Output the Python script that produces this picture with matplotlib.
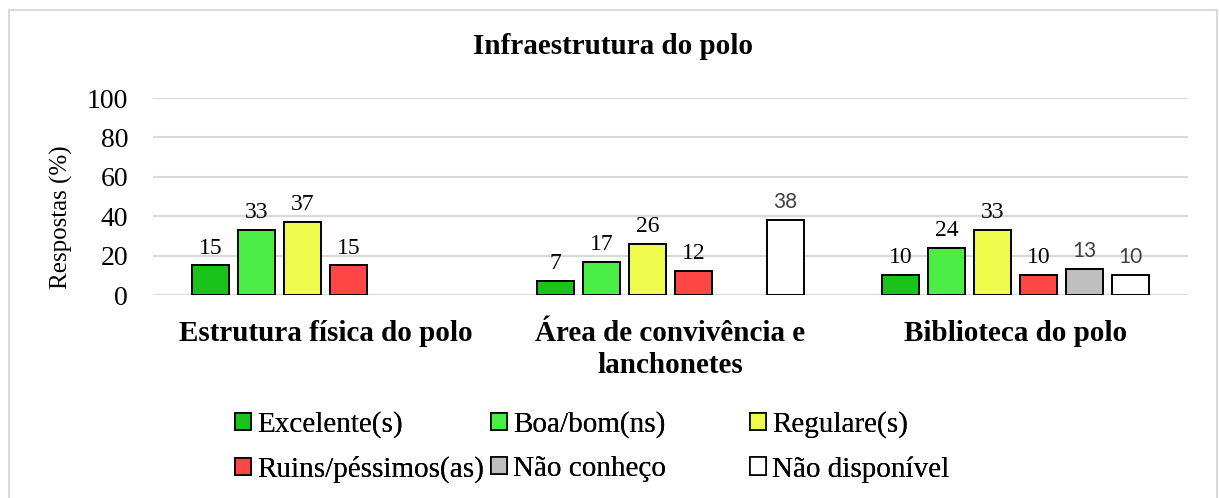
import numpy as np
import matplotlib
matplotlib.use("Agg")
import matplotlib.pyplot as plt
from matplotlib.patches import Rectangle, Patch

plt.rcParams["font.family"] = ["Liberation Serif", "DejaVu Serif"]

categories = ["Estrutura física do polo", "Área de convivência e\nlanchonetes", "Biblioteca do polo"]
series_names = ["Excelente(s)", "Boa/bom(ns)", "Regulare(s)", "Ruins/péssimos(as)", "Não conheço", "Não disponível"]
excelente = [15, 7, 10]
boa = [33, 17, 24]
regulares = [37, 26, 33]
ruins = [15, 12, 10]
nao_conheco = [np.nan, np.nan, 13]
nao_disponivel = [np.nan, 38, 10]
all_series = [excelente, boa, regulares, ruins, nao_conheco, nao_disponivel]

colors = ["#19C319", "#4BEE44", "#EEFB4B", "#FF4646", "#BFBFBF", "#FFFFFF"]

fig = plt.figure(figsize=(12.19, 4.98), dpi=100)
ax = fig.add_axes([153 / 1219, 1 - 295 / 498, (1188 - 153) / 1219, (295 - 98) / 498])

# outer chart border (light grey, cut at bottom)
fig.patches.append(Rectangle((8.5 / 1219, -0.1), (1217 - 8.5) / 1219, 1.1 - 10.5 / 498,
                             transform=fig.transFigure, fill=False, edgecolor="#D9D9D9",
                             linewidth=1.5, zorder=0))

x = np.arange(len(categories))
pitch = 0.1333
width = 0.107
handles = []
for i, (name, vals, col) in enumerate(zip(series_names, all_series, colors)):
    pos = x + (i - 2.5) * pitch
    ax.bar(pos, vals, width, color=col, edgecolor="black", linewidth=1.4, zorder=3)
    handles.append(Patch(facecolor=col, edgecolor="black", linewidth=1.2))
    for p, v in zip(pos, vals):
        if np.isnan(v):
            continue
        if i >= 4:
            ax.annotate(f"{v:.0f}", (p, v), xytext=(0, 6), textcoords="offset points",
                        ha="center", va="bottom", fontsize=15, color="#404040",
                        family=["Lato", "DejaVu Sans"])
        else:
            ax.annotate(f"{v:.0f}", (p, v), xytext=(0, 5), textcoords="offset points",
                        ha="center", va="bottom", fontsize=17, color="black")

ax.set_xlim(-0.5, 2.5)
ax.set_ylim(0, 100)
ax.set_yticks([0, 20, 40, 60, 80, 100])
ax.yaxis.grid(True, color="#D9D9D9", linewidth=1.5, zorder=0)
ax.set_axisbelow(True)
for s in ax.spines.values():
    s.set_visible(False)
ax.axhline(0, color="#D9D9D9", linewidth=1.5, zorder=1)
ax.tick_params(axis="both", length=0)
ax.tick_params(axis="y", labelsize=20, pad=18)
ax.set_xticks(x)
ax.set_xticklabels(categories, fontsize=21, fontweight="bold", linespacing=1.25)
ax.tick_params(axis="x", pad=18)

fig.text(61 / 1219, 1 - 217 / 498, "Respostas (%)", rotation=90, ha="center", va="center", fontsize=18)
fig.text(613 / 1219, 1 - 47 / 498, "Infraestrutura do polo", ha="center", va="center",
         fontsize=21, fontweight="bold")

# legend: three columns placed like the original (two rows each)
col_x = [235, 491, 750]
for c in range(3):
    idx = [c, c + 3]
    leg = fig.legend([handles[k] for k in idx], [series_names[k] for k in idx],
                     loc="upper left", bbox_to_anchor=(col_x[c] / 1219, 1 - 411 / 498),
                     frameon=False, fontsize=21, handlelength=0.55, handleheight=0.55,
                     handletextpad=0.2, labelspacing=0.62, borderaxespad=0, borderpad=0)
    fig.add_artist(leg)

fig.savefig("out.png", dpi=100)
